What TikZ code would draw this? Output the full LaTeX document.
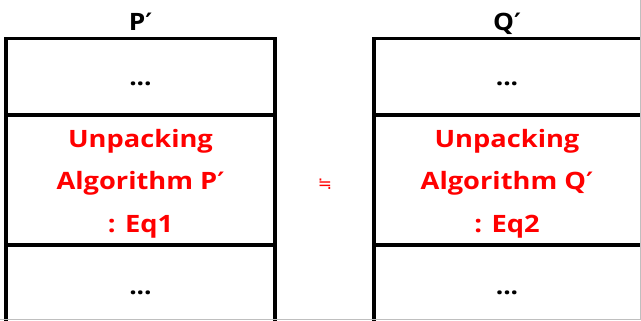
\documentclass[tikz,border=0pt]{standalone}
\usepackage{fontspec}
\setmainfont{Open Sans}
\newfontfamily\symfont{DejaVu Sans}
\newcommand{\prm}{{\symfont\bfseries ′}}
\definecolor{redtxt}{RGB}{255,0,0}
\begin{document}
\begin{tikzpicture}[x=1bp,y=-1bp,
  boxline/.style={line width=3.6bp,black},
  frameline/.style={line width=1bp,black!25},
  titletxt/.style={anchor=base,inner sep=0pt,xscale=1.1,font=\fontsize{24}{28}\selectfont\bfseries},
  redline/.style={anchor=base,inner sep=0pt,xscale=1.14,text=redtxt,font=\fontsize{24}{28}\selectfont\bfseries},
  dotstxt/.style={anchor=base,inner sep=0pt,xscale=1.1,font=\fontsize{24}{28}\selectfont\bfseries},
  symtxt/.style={inner sep=0pt,text=redtxt,font=\symfont\fontsize{17}{20}\selectfont}]
\useasboundingbox (0,0) rectangle (641,320);
\fill[white] (0,0) rectangle (641,320);
\begin{scope}
\clip (0,0) rectangle (641,320);
% left box
\coordinate (la) at (6,340);
\coordinate (lb) at (6,38.5);
\coordinate (lc) at (275,38.5);
\coordinate (ld) at (275,340);
\draw[boxline] (la) -- (lb) -- (lc) -- (ld);
\coordinate (l1a) at (6,115); \coordinate (l1b) at (275,115);
\coordinate (l2a) at (6,245); \coordinate (l2b) at (275,245);
\draw[boxline] (l1a) -- (l1b);
\draw[boxline] (l2a) -- (l2b);
% right box
\coordinate (ra) at (374,340);
\coordinate (rb) at (374,38.5);
\coordinate (rc) at (643,38.5);
\coordinate (rd) at (643,340);
\draw[boxline] (ra) -- (rb) -- (rc) -- (rd);
\coordinate (r1a) at (374,115); \coordinate (r1b) at (643,115);
\coordinate (r2a) at (374,245); \coordinate (r2b) at (643,245);
\draw[boxline] (r1a) -- (r1b);
\draw[boxline] (r2a) -- (r2b);
% frame edges
\coordinate (fa) at (640.5,0); \coordinate (fb) at (640.5,319.5); \coordinate (fc) at (0,319.5);
\draw[frameline] (fa) -- (fb) -- (fc);
\end{scope}
% texts left
\node[titletxt] (pt) at (140.5,30) {P\prm};
\node[dotstxt] (pd1) at (140.5,85) {...};
\node[redline] (pu) at (140.5,147) {Unpacking};
\node[redline] (pa) at (140.5,189.5) {Algorithm P\prm};
\node[redline] (pe) at (140.5,232) {: Eq1};
\node[dotstxt] (pd2) at (140.5,294) {...};
% texts right
\node[titletxt] (qt) at (507,30) {Q\prm};
\node[dotstxt] (qd1) at (507,85) {...};
\node[redline] (qu) at (507,147) {Unpacking};
\node[redline] (qa) at (507,189.5) {Algorithm Q\prm};
\node[redline] (qe) at (507,232) {: Eq2};
\node[dotstxt] (qd2) at (507,294) {...};
% middle symbol
\node[symtxt] (sym) at (325,184) {≒};
\end{tikzpicture}
\end{document}
